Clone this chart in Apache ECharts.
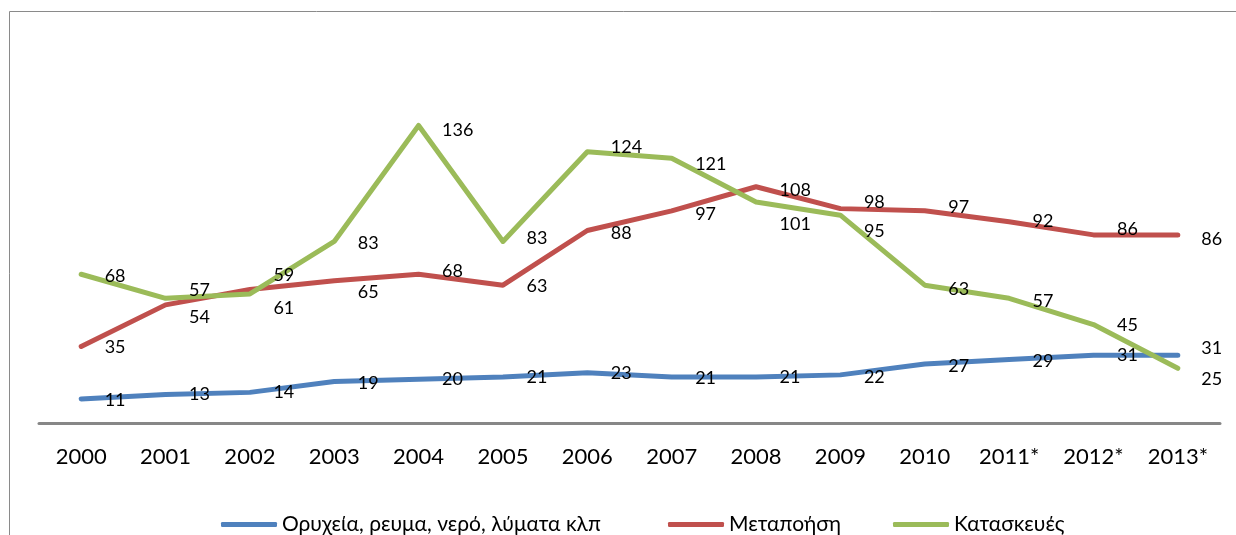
<!DOCTYPE html>
<html>
<head>
<meta charset="utf-8">
<script src="https://cdn.jsdelivr.net/npm/echarts@6/dist/echarts.min.js"></script>
<style>
html,body{margin:0;padding:0;background:#fff;}
#chart{width:1236px;height:535px;}
</style>
</head>
<body>
<div id="chart"></div>
<script>
// ---- data ----
const years = ['2000','2001','2002','2003','2004','2005','2006','2007','2008','2009','2010','2011*','2012*','2013*'];
const seriesNames = ['Ορυχεία, ρευμα, νερό, λύματα κλπ', 'Μεταποήση', 'Κατασκευές'];
const mining = [11,13,14,19,20,21,23,21,21,22,27,29,31,31];
const manufacturing = [35,54,61,65,68,63,88,97,108,98,97,92,86,86];
const construction = [68,57,59,83,136,83,124,121,101,95,63,57,45,25];

// ---- label vertical nudges (style only) ----
const labelDy = {
  0: [1,0,0,2,0,0,0,1,0,2,2,2,0,-7],
  1: [1,12,19,11,-3,1,3,3,3,-6,-4,-1,-6,4],
  2: [2,-8,-19,2,5,-3,-5,6,22,16,4,3,1,11]
};
const colors = ['#4F81BD', '#C0504D', '#9BBB59'];
const legendLeft = [216, 663, 888];
const FONT = 'Lato, "Noto Sans", sans-serif';

function mkSeries(idx, values) {
  return {
    name: seriesNames[idx],
    type: 'line',
    data: values.map((v, i) => ({
      value: v,
      label: { offset: [0, labelDy[idx][i]] }
    })),
    symbol: 'circle',
    symbolSize: 1,
    itemStyle: { color: colors[idx] },
    lineStyle: { color: colors[idx], width: 5, cap: 'round', join: 'round' },
    label: {
      show: true,
      position: 'right',
      distance: 23,
      color: '#000',
      fontFamily: FONT,
      fontSize: 18
    },
    emphasis: { disabled: true },
    z: 2 + idx
  };
}

const chart = echarts.init(document.getElementById('chart'), null, { renderer: 'canvas' });
chart.setOption({
  animation: false,
  backgroundColor: '#fff',
  graphic: [{
    type: 'rect',
    shape: { x: 9.5, y: 11.5, width: 1400, height: 700 },
    style: { fill: 'none', stroke: '#8a8a8a', lineWidth: 1 },
    silent: true, z: -1
  }],
  grid: { left: 39, right: 16, top: 73, bottom: 112, containLabel: false },
  xAxis: {
    type: 'category',
    data: years,
    boundaryGap: true,
    axisLine: { show: true, lineStyle: { color: '#878787', width: 3 } },
    axisTick: { show: false },
    axisLabel: { color: '#000', fontFamily: FONT, fontSize: 22, margin: 23, interval: 0 },
    splitLine: { show: false }
  },
  yAxis: {
    type: 'value',
    min: 0, max: 160, interval: 20,
    show: false,
    splitLine: { show: false }
  },
  legend: seriesNames.map((n, i) => ({
    left: legendLeft[i], top: 509,
    icon: 'roundRect',
    itemWidth: 56, itemHeight: 5,
    textStyle: { color: '#000', fontFamily: FONT, fontSize: 21 },
    data: [n]
  })),
  series: [mkSeries(0, mining), mkSeries(1, manufacturing), mkSeries(2, construction)]
});
</script>
</body>
</html>
